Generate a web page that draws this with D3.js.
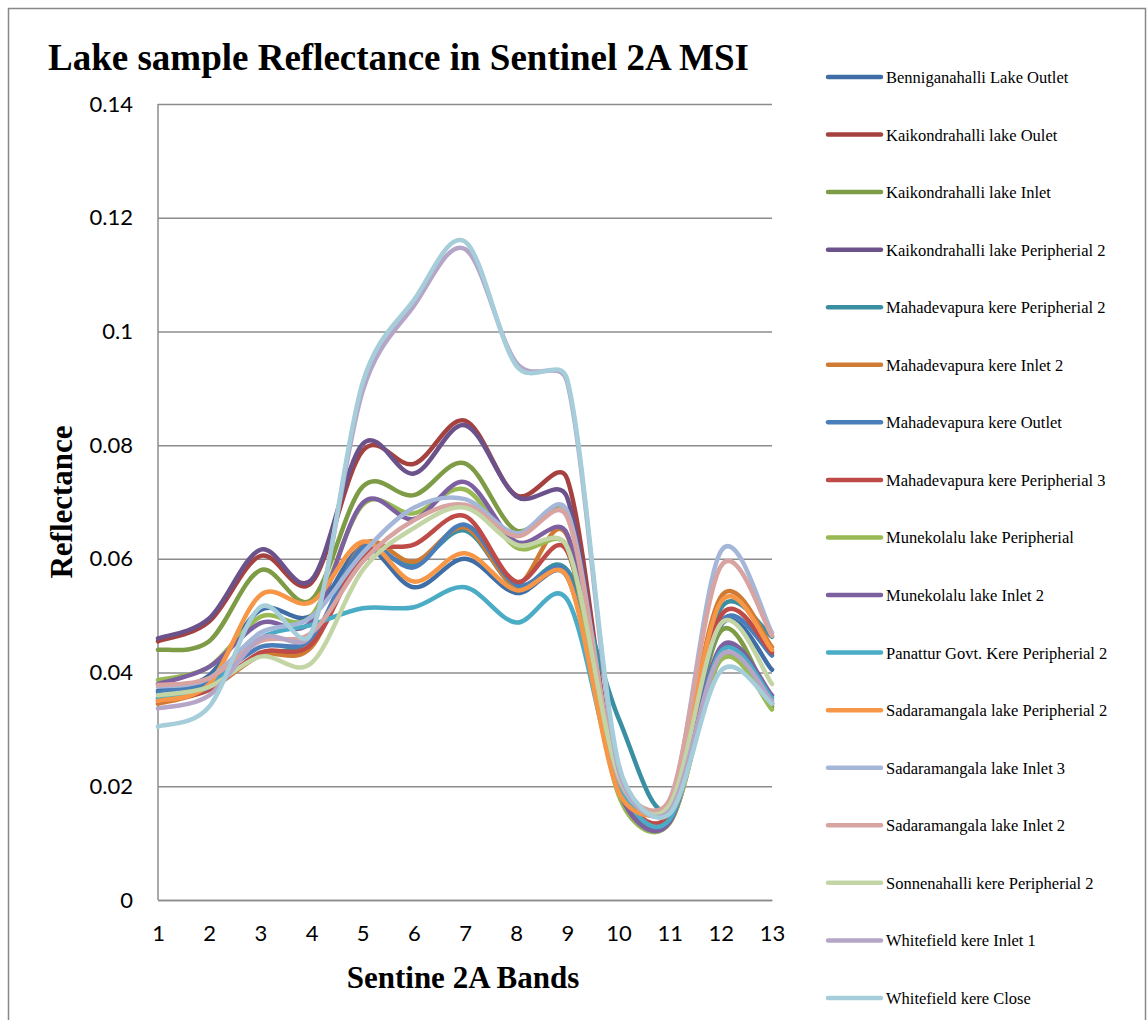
<!DOCTYPE html>
<html>
<head>
<meta charset="utf-8">
<script src="https://cdn.jsdelivr.net/npm/d3@7"></script>
<style>
  body { margin: 0; background: #fff; }
</style>
</head>
<body>
<div id="chart"></div>
<script>
// Sentinel 2A band numbers
const bands = [1, 2, 3, 4, 5, 6, 7, 8, 9, 10, 11, 12, 13];
const yTicks = [0, 0.02, 0.04, 0.06, 0.08, 0.1, 0.12, 0.14];

// series names (legend order)
const seriesNames = [
    "Benniganahalli Lake Outlet",
    "Kaikondrahalli lake Oulet",
    "Kaikondrahalli lake Inlet",
    "Kaikondrahalli lake Peripherial 2",
    "Mahadevapura kere Peripherial 2",
    "Mahadevapura kere Inlet 2",
    "Mahadevapura kere Outlet",
    "Mahadevapura kere Peripherial 3",
    "Munekolalu lake Peripherial",
    "Munekolalu lake Inlet 2",
    "Panattur Govt. Kere Peripherial 2",
    "Sadaramangala lake Peripherial 2",
    "Sadaramangala lake Inlet 3",
    "Sadaramangala lake Inlet 2",
    "Sonnenahalli kere Peripherial 2",
    "Whitefield kere Inlet 1",
    "Whitefield kere Close"
];

const seriesColors = [
    "#3f6ea6", "#a5423f", "#7e9b45", "#6b528b", "#3a8fa3", "#d07b34",
    "#4a7ebb", "#be4b48", "#98b954", "#7d60a0", "#4bacc6", "#f79646",
    "#a5b7d8", "#d7a4a2", "#c3d5a5", "#b5a6c8", "#a5cdda"
];

// reflectance per band, one row per series
const seriesValues = [
    [0.0368, 0.0395, 0.0510, 0.0500, 0.0620, 0.0550, 0.0600, 0.0540, 0.0568, 0.0210, 0.0142, 0.0483, 0.0405],
    [0.0455, 0.0490, 0.0605, 0.0558, 0.0790, 0.0767, 0.0843, 0.0712, 0.0740, 0.0200, 0.0137, 0.0425, 0.0345],
    [0.0440, 0.0455, 0.0580, 0.0528, 0.0727, 0.0712, 0.0768, 0.0650, 0.0682, 0.0195, 0.0137, 0.0473, 0.0340],
    [0.0460, 0.0495, 0.0616, 0.0563, 0.0802, 0.0750, 0.0835, 0.0710, 0.0707, 0.0200, 0.0137, 0.0440, 0.0345],
    [0.0355, 0.0380, 0.0430, 0.0460, 0.0610, 0.0590, 0.0650, 0.0550, 0.0580, 0.0320, 0.0162, 0.0513, 0.0463],
    [0.0345, 0.0370, 0.0430, 0.0445, 0.0625, 0.0595, 0.0655, 0.0555, 0.0640, 0.0195, 0.0172, 0.0533, 0.0445],
    [0.0365, 0.0385, 0.0445, 0.0460, 0.0620, 0.0585, 0.0660, 0.0555, 0.0573, 0.0200, 0.0147, 0.0488, 0.0430],
    [0.0350, 0.0370, 0.0435, 0.0450, 0.0605, 0.0625, 0.0675, 0.0560, 0.0613, 0.0205, 0.0152, 0.0500, 0.0435],
    [0.0387, 0.0410, 0.0498, 0.0500, 0.0695, 0.0680, 0.0722, 0.0620, 0.0620, 0.0185, 0.0135, 0.0422, 0.0335],
    [0.0380, 0.0410, 0.0487, 0.0490, 0.0698, 0.0670, 0.0735, 0.0630, 0.0643, 0.0195, 0.0137, 0.0445, 0.0360],
    [0.0355, 0.0375, 0.0460, 0.0484, 0.0513, 0.0515, 0.0550, 0.0488, 0.0528, 0.0205, 0.0142, 0.0437, 0.0355],
    [0.0350, 0.0380, 0.0536, 0.0524, 0.0630, 0.0560, 0.0610, 0.0545, 0.0568, 0.0190, 0.0172, 0.0524, 0.0440],
    [0.0375, 0.0390, 0.0470, 0.0498, 0.0610, 0.0690, 0.0705, 0.0645, 0.0683, 0.0215, 0.0167, 0.0613, 0.0470],
    [0.0378, 0.0390, 0.0455, 0.0470, 0.0595, 0.0668, 0.0695, 0.0640, 0.0673, 0.0215, 0.0177, 0.0587, 0.0465],
    [0.0360, 0.0375, 0.0428, 0.0417, 0.0580, 0.0654, 0.0690, 0.0625, 0.0620, 0.0220, 0.0167, 0.0486, 0.0380],
    [0.0337, 0.0360, 0.0460, 0.0470, 0.0895, 0.1045, 0.1145, 0.0945, 0.0910, 0.0230, 0.0157, 0.0430, 0.0350],
    [0.0305, 0.0340, 0.0515, 0.0470, 0.0910, 0.1055, 0.1158, 0.0940, 0.0915, 0.0240, 0.0152, 0.0403, 0.0345]
];

const width = 1148;
const height = 1020;
const plotLeft = 158;
const plotRight = 772;
const plotTop = 104;
const plotBottom = 900;
const gridColor = "#8c8c8c";
const tickFont = "Lato, 'Open Sans', sans-serif";
const serif = "'Liberation Serif', 'Times New Roman', serif";

const svg = d3.select("#chart")
    .append("svg")
    .attr("width", width)
    .attr("height", height);

// chart frame
svg.append("rect")
    .attr("x", 8.5)
    .attr("y", 8.5)
    .attr("width", 1137)
    .attr("height", 1030)
    .attr("fill", "#fff")
    .attr("stroke", "#888")
    .attr("stroke-width", 1.5);

const x = d3.scaleLinear().domain([1, 13]).range([plotLeft, plotRight]);
const y = d3.scaleLinear().domain([0, 0.14]).range([plotBottom, plotTop]);

// horizontal gridlines + y labels
const yAxis = svg.append("g")
    .attr("transform", `translate(${plotLeft},0)`)
    .call(d3.axisLeft(y).tickValues(yTicks)
        .tickSize(-(plotRight - plotLeft))
        .tickPadding(25)
        .tickFormat(d => d === 0 ? "0" : d3.format("~g")(+d.toFixed(2))));
yAxis.select(".domain").remove();
yAxis.selectAll(".tick line").attr("stroke", gridColor).attr("stroke-width", 1.5);
yAxis.selectAll(".tick text")
    .attr("font-family", tickFont)
    .attr("font-size", 22)
    .attr("fill", "#000");

// y axis line
svg.append("line")
    .attr("x1", plotLeft).attr("x2", plotLeft)
    .attr("y1", plotTop).attr("y2", plotBottom)
    .attr("stroke", gridColor).attr("stroke-width", 1.5);

// x labels
const xAxis = svg.append("g")
    .attr("transform", `translate(0,${plotBottom})`)
    .call(d3.axisBottom(x).tickValues(bands).tickSize(0).tickPadding(25).tickFormat(d3.format("d")));
xAxis.select(".domain").attr("stroke", gridColor).attr("stroke-width", 1.5);
xAxis.selectAll(".tick text")
    .attr("font-family", tickFont)
    .attr("font-size", 22)
    .attr("fill", "#000");

// spreadsheet-style smoothing: catmull-rom tangents, shortened when a
// neighbouring segment is much shorter than the span around it
function smoothCurve(context) {
    let pts = [];
    const dist = (a, b) => Math.hypot(b[0] - a[0], b[1] - a[1]);
    return {
        areaStart() {},
        areaEnd() {},
        lineStart() { pts = []; },
        point(px, py) { pts.push([px, py]); },
        lineEnd() {
            const n = pts.length;
            if (!n) return;
            context.moveTo(pts[0][0], pts[0][1]);
            for (let i = 0; i < n - 1; i++) {
                const p0 = pts[Math.max(i - 1, 0)];
                const p1 = pts[i];
                const p2 = pts[i + 1];
                const p3 = pts[Math.min(i + 2, n - 1)];
                const d12 = dist(p1, p2);
                const d02 = dist(p0, p2) || 1;
                const d13 = dist(p1, p3) || 1;
                const f1 = d02 / 6 < d12 / 2 ? 1 / 6 : d12 / (2 * d02);
                const f2 = d13 / 6 < d12 / 2 ? 1 / 6 : d12 / (2 * d13);
                context.bezierCurveTo(
                    p1[0] + f1 * (p2[0] - p0[0]), p1[1] + f1 * (p2[1] - p0[1]),
                    p2[0] - f2 * (p3[0] - p1[0]), p2[1] - f2 * (p3[1] - p1[1]),
                    p2[0], p2[1]);
            }
        }
    };
}

const line = d3.line()
    .x((d, i) => x(bands[i]))
    .y(d => y(d))
    .curve(smoothCurve);

svg.append("g")
    .selectAll("path")
    .data(seriesValues)
    .enter().append("path")
    .attr("d", d => line(d))
    .attr("fill", "none")
    .attr("stroke", (d, i) => seriesColors[i])
    .attr("stroke-width", 4.5)
    .attr("stroke-linejoin", "round")
    .attr("stroke-linecap", "round");

// titles
svg.append("text")
    .attr("x", 48).attr("y", 70)
    .attr("font-family", serif)
    .attr("font-weight", "bold")
    .attr("font-size", 37)
    .text("Lake sample Reflectance in Sentinel 2A MSI");

svg.append("text")
    .attr("x", (plotLeft + plotRight) / 2 - 2).attr("y", 988)
    .attr("text-anchor", "middle")
    .attr("font-family", serif)
    .attr("font-weight", "bold")
    .attr("font-size", 31)
    .text("Sentine 2A Bands");

svg.append("text")
    .attr("transform", "translate(72,502) rotate(-90)")
    .attr("text-anchor", "middle")
    .attr("font-family", serif)
    .attr("font-weight", "bold")
    .attr("font-size", 31)
    .text("Reflectance");

// legend
const legend = svg.append("g")
    .selectAll("g")
    .data(seriesNames)
    .enter().append("g")
    .attr("transform", (d, i) => `translate(826,${77 + i * 57.56})`);

legend.append("line")
    .attr("x1", 2).attr("x2", 55)
    .attr("stroke", (d, i) => seriesColors[i])
    .attr("stroke-width", 4.5)
    .attr("stroke-linecap", "round");

legend.append("text")
    .attr("x", 60).attr("y", 6)
    .attr("font-family", serif)
    .attr("font-size", 16.5)
    .text(d => d);
</script>
</body>
</html>
